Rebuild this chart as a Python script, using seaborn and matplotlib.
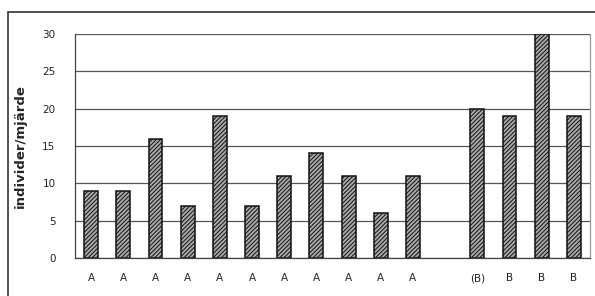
import matplotlib
matplotlib.use("Agg")
import matplotlib.pyplot as plt
import seaborn as sns
import numpy as np
import pandas as pd
from matplotlib.patches import Rectangle

positions = [0, 1, 2, 3, 4, 5, 6, 7, 8, 9, 10, 12, 13, 14, 15]
labels = ["A", "A", "A", "A", "A", "A", "A", "A", "A", "A", "A", "(B)", "B", "B", "B"]
values = [9, 9, 16, 7, 19, 7, 11, 14, 11, 6, 11, 20, 19, 30, 19]

sns.set_style("white")
plt.rcParams['font.family'] = ['DejaVu Sans']
plt.rcParams['hatch.color'] = '#303030'
plt.rcParams['hatch.linewidth'] = 0.7

fig = plt.figure(figsize=(5.95, 2.96), dpi=100)
ax = fig.add_axes([75/595, 1 - 258/296, (590 - 75)/595, (258 - 34)/296])

df = pd.DataFrame({"pos": positions, "val": values})
sns.barplot(data=df, x="pos", y="val", native_scale=True, width=0.43,
            color="#a0a0a0", edgecolor="#111111", linewidth=1.1, ax=ax)
for p in ax.patches:
    p.set_hatch("////////")
    p.set_facecolor("#a8a8a8")

ax.set_xlim(-0.5, 15.5)
ax.set_ylim(0, 30)
ax.set_yticks([0, 5, 10, 15, 20, 25, 30])
ax.yaxis.grid(True, color="#555555", linewidth=0.9)
ax.set_axisbelow(True)
ax.set_xticks(positions)
ax.set_xticklabels(labels, fontsize=7.5, color="#222222")
ax.tick_params(axis="x", length=0, pad=11)
ax.set_xticks(np.arange(-0.5, 16, 1), minor=True)
ax.tick_params(axis="x", which="minor", length=3, color="#555555", direction="out")
ax.tick_params(axis="y", length=4, color="#555555", labelsize=7.5, labelcolor="#222222", pad=10)
ax.set_xlabel("")
ax.set_ylabel("individer/mjärde", fontsize=9.5, fontweight="bold", labelpad=11)
for s in ["left", "bottom", "right"]:
    ax.spines[s].set_visible(True)
    ax.spines[s].set_color("#444444")
    ax.spines[s].set_linewidth(0.9)
ax.spines["top"].set_visible(False)
ax.spines["right"].set_color("#999999")

fig.patches.append(Rectangle((8/595, -0.01), (596 - 8)/595, 1 - 12/296 + 0.01,
                             transform=fig.transFigure, fill=False,
                             edgecolor="#333333", linewidth=1.2))

fig.savefig("out.png", dpi=100)
